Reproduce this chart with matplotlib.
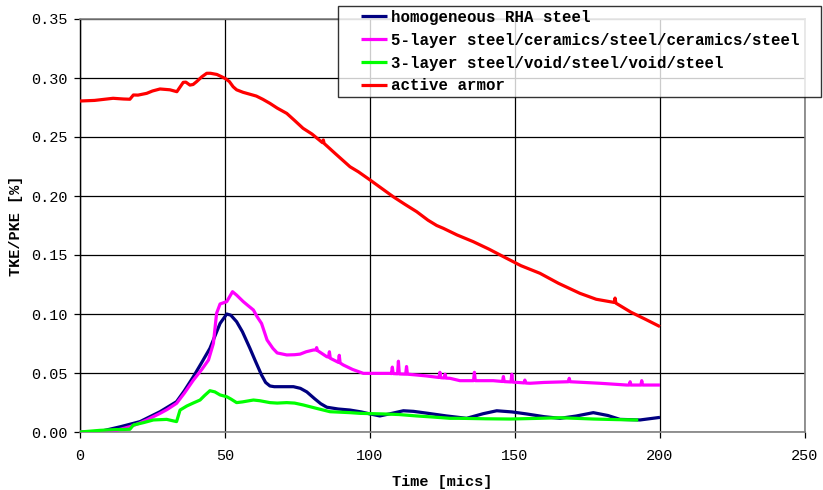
import numpy as np
import matplotlib
matplotlib.use("Agg")
import matplotlib.pyplot as plt
from matplotlib.legend_handler import HandlerLine2D

# ---------------- data ----------------
t_rha = [0, 7, 14, 20.7, 27.6, 33.3, 36, 39.1, 42, 44.8, 48.3, 50.6, 52, 54, 56, 58.6,
         60.5, 62.6, 64, 65.5, 67, 70, 73.6, 76, 78.2, 81, 83, 85.1, 89, 93.1, 97, 100,
         103.4, 107, 111.5, 115, 119.5, 126.4, 133.3, 139, 143.7, 149, 154, 160, 165.5,
         171, 177, 182, 186.2, 193.1, 200]
v_rha = [0, 0.0005, 0.0045, 0.0088, 0.0172, 0.0257, 0.035, 0.0469, 0.059, 0.0709, 0.092,
         0.100, 0.099, 0.0935, 0.085, 0.0709, 0.060, 0.0483, 0.042, 0.039, 0.0384, 0.0384,
         0.0384, 0.037, 0.034, 0.028, 0.024, 0.021, 0.0195, 0.0186, 0.017, 0.0153, 0.0136,
         0.0155, 0.018, 0.0175, 0.016, 0.0136, 0.0116, 0.0155, 0.018, 0.017, 0.0153, 0.013,
         0.0116, 0.0135, 0.0164, 0.014, 0.0107, 0.0102, 0.0124]

t_5layer = [0, 7, 12, 17.2, 20, 23, 27.6, 30, 33.3, 36, 39.1, 42, 44.3, 46, 47.1, 48.3,
            50.6, 52.6, 54, 56.3, 58, 59.8, 61, 62.6, 64.5, 66.5, 68, 71.3, 74, 75.9, 78,
            80.5, 81.3, 81.6, 81.9, 85.1, 85.7, 86, 86.3, 89.1, 89.4, 89.7, 90.8, 94, 97.7,
            100, 106.9, 107.4, 107.7, 108.0, 109.5, 109.8, 110.1, 112.3, 112.6, 112.9,
            116.1, 119.5, 123.8, 124.1, 124.4, 125.6, 125.9, 126.2, 127.6, 131, 135.7, 136,
            136.3, 142.5, 145.7, 146, 146.3, 148.6, 148.9, 149.2, 153.1, 153.4, 153.7,
            155.2, 160, 168.4, 168.7, 169.0, 179.3, 188.5, 189.4, 189.7, 190.0, 193.4,
            193.7, 194.0, 200]
v_5layer = [0, 0, 0.001, 0.0045, 0.007, 0.0102, 0.0158, 0.019, 0.0243, 0.033, 0.044, 0.053,
            0.061, 0.0751, 0.1006, 0.1085, 0.1105, 0.1189, 0.116, 0.1105, 0.107, 0.1034,
            0.098, 0.092, 0.078, 0.0709, 0.067, 0.0653, 0.0655, 0.066, 0.068, 0.0695, 0.0695,
            0.0715, 0.069, 0.0638, 0.0635, 0.068, 0.0625, 0.059, 0.065, 0.0585, 0.0568,
            0.053, 0.0497, 0.0497, 0.0497, 0.0495, 0.055, 0.0495, 0.0493, 0.060, 0.0492,
            0.049, 0.0555, 0.049, 0.0483, 0.0475, 0.0462, 0.0506, 0.046, 0.0458, 0.049,
            0.0457, 0.0455, 0.0435, 0.0435, 0.0506, 0.0435, 0.0435, 0.0428, 0.047, 0.0427,
            0.0424, 0.049, 0.0423, 0.0416, 0.044, 0.0415, 0.0413, 0.042, 0.0426, 0.0455,
            0.0426, 0.0413, 0.0398, 0.0398, 0.0426, 0.0398, 0.0398, 0.0435, 0.0398, 0.0398]

t_3layer = [0, 6.9, 12, 17.2, 18.4, 22, 25.3, 29.9, 32, 33.3, 34.5, 36.8, 39, 41.4, 43,
            44.8, 46.5, 48.3, 50.6, 52, 54, 56, 59.8, 62, 65.5, 68, 71.3, 74, 77, 81.6,
            86.2, 93.1, 96.6, 104.6, 110, 116.1, 121, 127.6, 131, 140, 148.3, 157, 165.5,
            177, 185, 192.5]
v_3layer = [0, 0.0014, 0.002, 0.0023, 0.0059, 0.008, 0.0102, 0.0107, 0.0095, 0.0088, 0.0186,
            0.022, 0.0245, 0.0271, 0.031, 0.035, 0.034, 0.0314, 0.0299, 0.028, 0.0249,
            0.0255, 0.0271, 0.0265, 0.0249, 0.0245, 0.0249, 0.0245, 0.0229, 0.020, 0.0172,
            0.0164, 0.0158, 0.0153, 0.0148, 0.0136, 0.0128, 0.0116, 0.0116, 0.0112, 0.011,
            0.0115, 0.0121, 0.011, 0.0105, 0.0102]

t_active = [0, 5, 11.4, 15, 17.2, 18.4, 20, 23, 25, 27.6, 31, 33.4, 35.6, 36.5, 37.9, 39,
            40.2, 42, 43.7, 45, 47.2, 50, 51.5, 52.8, 54, 56.2, 60.8, 63, 65.5, 68, 71.3,
            74, 76.9, 80, 83.6, 83.9, 84.2, 88, 93.1, 96, 100, 104, 108, 112, 116.1, 120,
            123, 125.3, 130, 135.6, 141, 147.1, 152, 158.6, 165, 172.4, 178, 184.2, 184.5,
            184.8, 190, 195, 200]
v_active = [0.2805, 0.281, 0.2828, 0.2822, 0.282, 0.2856, 0.2855, 0.287, 0.289, 0.2907,
            0.290, 0.2884, 0.2963, 0.2965, 0.294, 0.2945, 0.2969, 0.301, 0.304, 0.304, 0.303,
            0.2997, 0.297, 0.2926, 0.290, 0.2879, 0.2847, 0.282, 0.2785, 0.2745, 0.270,
            0.264, 0.2574, 0.2525, 0.2452, 0.2475, 0.2445, 0.236, 0.2248, 0.2205, 0.2136,
            0.2065, 0.1994, 0.193, 0.1867, 0.1795, 0.175, 0.1726, 0.167, 0.1613, 0.155,
            0.1472, 0.141, 0.1345, 0.126, 0.1175, 0.1125, 0.1098, 0.1135, 0.1092, 0.1015,
            0.0955, 0.0893]

labels = ["homogeneous RHA steel",
          "5-layer steel/ceramics/steel/ceramics/steel",
          "3-layer steel/void/steel/void/steel",
          "active armor"]
colors = ["#000080", "#FF00FF", "#00FF00", "#FF0000"]

x_ticks = [0, 50, 100, 150, 200, 250]
y_ticks = [0.00, 0.05, 0.10, 0.15, 0.20, 0.25, 0.30, 0.35]

# ---------------- figure ----------------
FONT = "Liberation Mono"
plt.rcParams["font.family"] = [FONT, "DejaVu Sans"]

fig = plt.figure(figsize=(8.23, 4.90), dpi=100)
ax = fig.add_axes([80 / 823, 1 - 432 / 490, 725 / 823, 413 / 490])

series = [(t_rha, v_rha), (t_5layer, v_5layer), (t_3layer, v_3layer), (t_active, v_active)]
handles = []
for (t, v), c, lab in zip(series, colors, labels):
    h, = ax.plot(t, v, color=c, lw=2.3, label=lab, solid_joinstyle="round",
                 solid_capstyle="butt", zorder=3)
    handles.append(h)

ax.set_xlim(0, 250)
ax.set_ylim(0, 0.35)
ax.set_xticks(x_ticks)
ax.set_yticks(y_ticks)
ax.set_xticklabels([f"{x:d}" for x in x_ticks], fontsize=11, family=FONT)
ax.set_yticklabels([f"{y:.2f}" for y in y_ticks], fontsize=11, family=FONT)

ax.grid(True, color="black", lw=0.9, zorder=1)
ax.tick_params(axis="both", direction="out", length=4, width=0.9, color="black",
               pad=5)
ax.tick_params(axis="x", pad=8)

for s in ["top", "right", "bottom"]:
    ax.spines[s].set_color("#808080")
    ax.spines[s].set_linewidth(1.2)
ax.spines["left"].set_color("black")
ax.spines["left"].set_linewidth(1.0)

ax.set_xlabel("Time [mics]", fontsize=11, fontweight="bold", family=FONT, labelpad=9)
ax.set_ylabel("TKE/PKE [%]", fontsize=11, fontweight="bold", family=FONT, labelpad=6)


class ShiftedLine(HandlerLine2D):
    def create_artists(self, legend, orig_handle, xdescent, ydescent, width, height,
                       fontsize, trans):
        arts = super().create_artists(legend, orig_handle, xdescent, ydescent, width,
                                      height, fontsize, trans)
        L = 26 * 72 / 100.0
        for a in arts:
            xd = np.asarray(a.get_xdata(), dtype=float)
            if len(xd) >= 2:
                x1 = xd.max()
                a.set_xdata(np.linspace(x1 - L, x1, len(xd)))
        return arts


leg = fig.legend(handles=handles, labels=labels,
                 loc="upper left",
                 bbox_to_anchor=(338 / 823, 1 - 97 / 490, (821 - 338) / 823, 91 / 490),
                 mode="expand", borderaxespad=0, borderpad=0.25,
                 handlelength=2.9, handletextpad=0.2, labelspacing=0.5,
                 frameon=True, fancybox=False, shadow=False,
                 prop={"family": FONT, "weight": "bold", "size": 11.3},
                 handler_map={h: ShiftedLine() for h in handles})
leg.get_frame().set_edgecolor("black")
leg.get_frame().set_linewidth(1.0)

fig.savefig("out.png", dpi=100)
